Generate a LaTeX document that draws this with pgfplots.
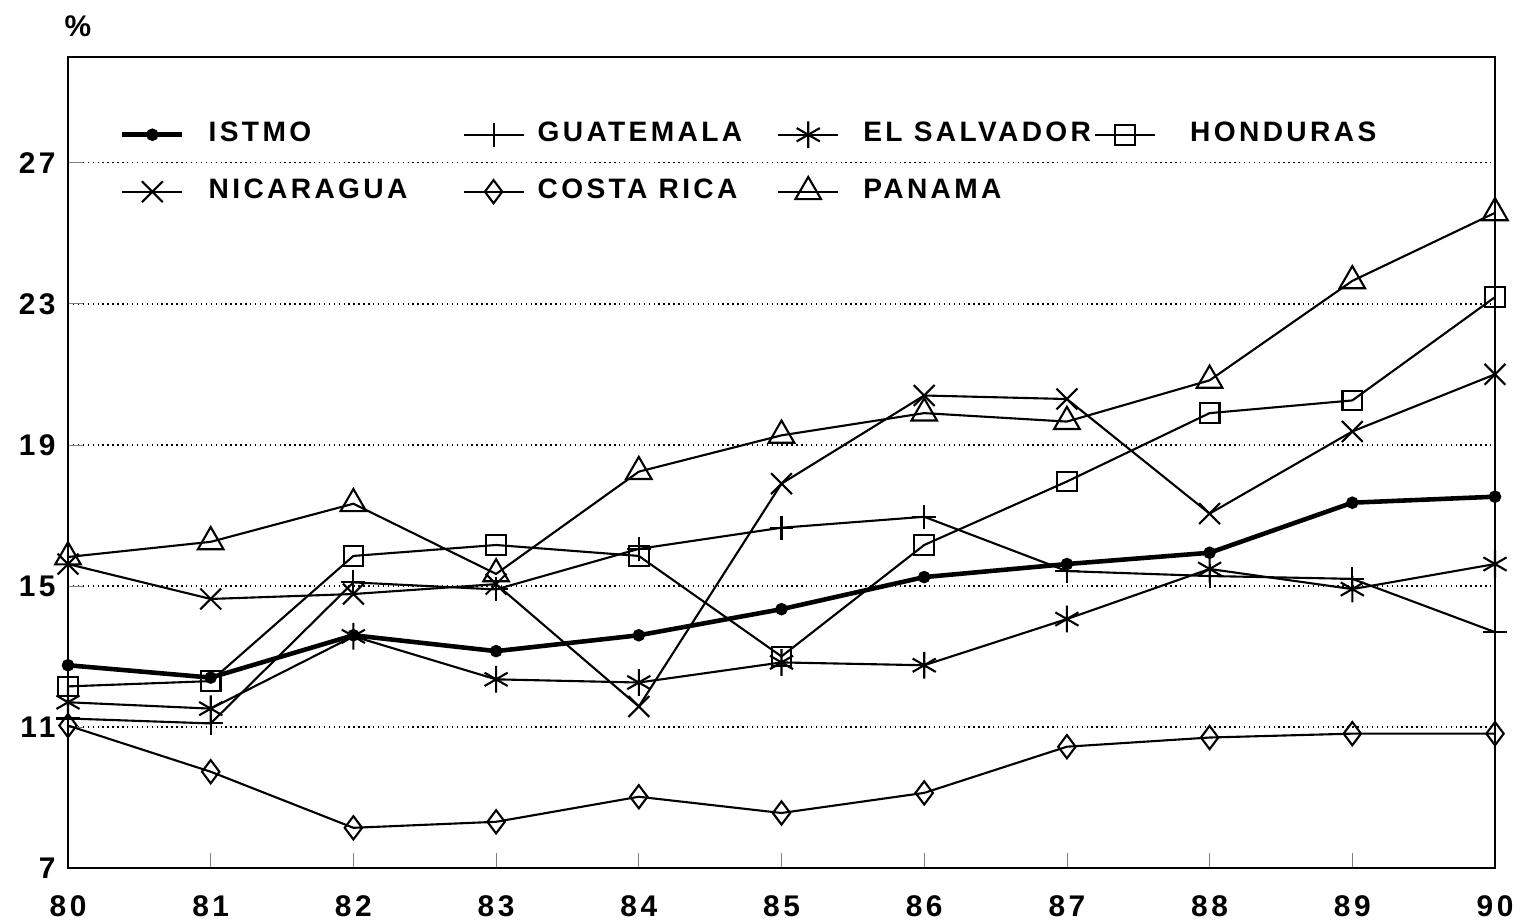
\documentclass[border=0pt]{standalone}
\usepackage{fontspec}
\setmainfont{Liberation Sans}
\newfontfamily\chartfont{Liberation Sans}[LetterSpace=12]
\usepackage{pgfplots}
\pgfplotsset{compat=1.18}

\begin{document}
\begin{tikzpicture}
  \path[use as bounding box] (-0.68cm,-0.53cm) rectangle (14.62cm,8.68cm);
  \begin{axis}[
      scale only axis,
      width=14.27cm, height=8.11cm,
      xmin=80, xmax=90, ymin=7, ymax=30,
      xtick={80,...,90}, ytick={7,11,15,19,23,27},
      tick align=inside, xtick pos=bottom, ytick pos=left,
      major tick length=0.15cm,
      axis line style={line width=0.6pt},
      ymajorgrids, major grid style={densely dotted, line width=0.4pt, black},
      /pgf/number format/assume math mode=true,
      ticklabel style={font=\chartfont\bfseries\fontsize{8.5}{10}\selectfont},
      xticklabel style={yshift=-0.15cm},
      every axis plot/.append style={line width=0.6pt, black},
      legend columns=4,
      legend cell align=left,
      legend style={draw=none, fill=none, inner sep=0pt,
        at={(0.036,0.929)}, anchor=north west,
        font=\chartfont\bfseries\fontsize{8}{9.6}\selectfont,
        row sep=0.18cm, column sep=0cm,
        /tikz/column 1/.style={column sep=0.17cm},
        /tikz/column 2/.style={column sep=0.48cm},
        /tikz/column 3/.style={column sep=0.06cm},
        /tikz/column 4/.style={column sep=0.28cm},
        /tikz/column 5/.style={column sep=0.17cm},
        /tikz/column 6/.style={column sep=-0.04cm},
        /tikz/column 7/.style={column sep=0.27cm}},
    ]
    \addplot[line width=1.3pt, mark=*, mark size=1.1pt] coordinates {
      (80,12.75) (81,12.4) (82,13.6) (83,13.15) (84,13.6) (85,14.34)
      (86,15.25) (87,15.62) (88,15.94) (89,17.36) (90,17.53)};
    \addlegendentry{ISTMO}
    \addplot[mark=+, mark size=3.4pt] coordinates {
      (80,11.24) (81,11.1) (82,15.1) (83,14.9) (84,16.05) (85,16.65)
      (86,16.96) (87,15.42) (88,15.28) (89,15.2) (90,13.69)};
    \addlegendentry{GUATEMALA}
    \addplot[mark=asterisk, mark size=3.8pt] coordinates {
      (80,11.7) (81,11.52) (82,13.57) (83,12.35) (84,12.26) (85,12.83)
      (86,12.75) (87,14.06) (88,15.48) (89,14.91) (90,15.62)};
    \addlegendentry{EL SALVADOR}
    \addplot[mark=square, mark size=2.8pt] coordinates {
      (80,12.15) (81,12.3) (82,15.85) (83,16.16) (84,15.85) (85,13.0)
      (86,16.16) (87,17.96) (88,19.9) (89,20.26) (90,23.19)};
    \addlegendentry{HONDURAS}
    \addplot[mark=x, mark size=4.2pt] coordinates {
      (80,15.62) (81,14.63) (82,14.77) (83,15.05) (84,11.58) (85,17.9)
      (86,20.4) (87,20.3) (88,17.05) (89,19.38) (90,21.0)};
    \addlegendentry{NICARAGUA}
    \addplot[mark=diamond, mark size=3.3pt] coordinates {
      (80,11.04) (81,9.73) (82,8.14) (83,8.31) (84,9.02) (85,8.56)
      (86,9.13) (87,10.44) (88,10.7) (89,10.81) (90,10.81)};
    \addlegendentry{COSTA RICA}
    \addplot[mark=triangle, mark size=4.2pt] coordinates {
      (80,15.82) (81,16.25) (82,17.33) (83,15.34) (84,18.24) (85,19.27)
      (86,19.9) (87,19.66) (88,20.83) (89,23.65) (90,25.58)};
    \addlegendentry{PANAMA}
  \end{axis}
  \node[font=\chartfont\bfseries\fontsize{8.5}{10}\selectfont]
    at (0.1cm,8.42cm) {\%};
\end{tikzpicture}
\end{document}
